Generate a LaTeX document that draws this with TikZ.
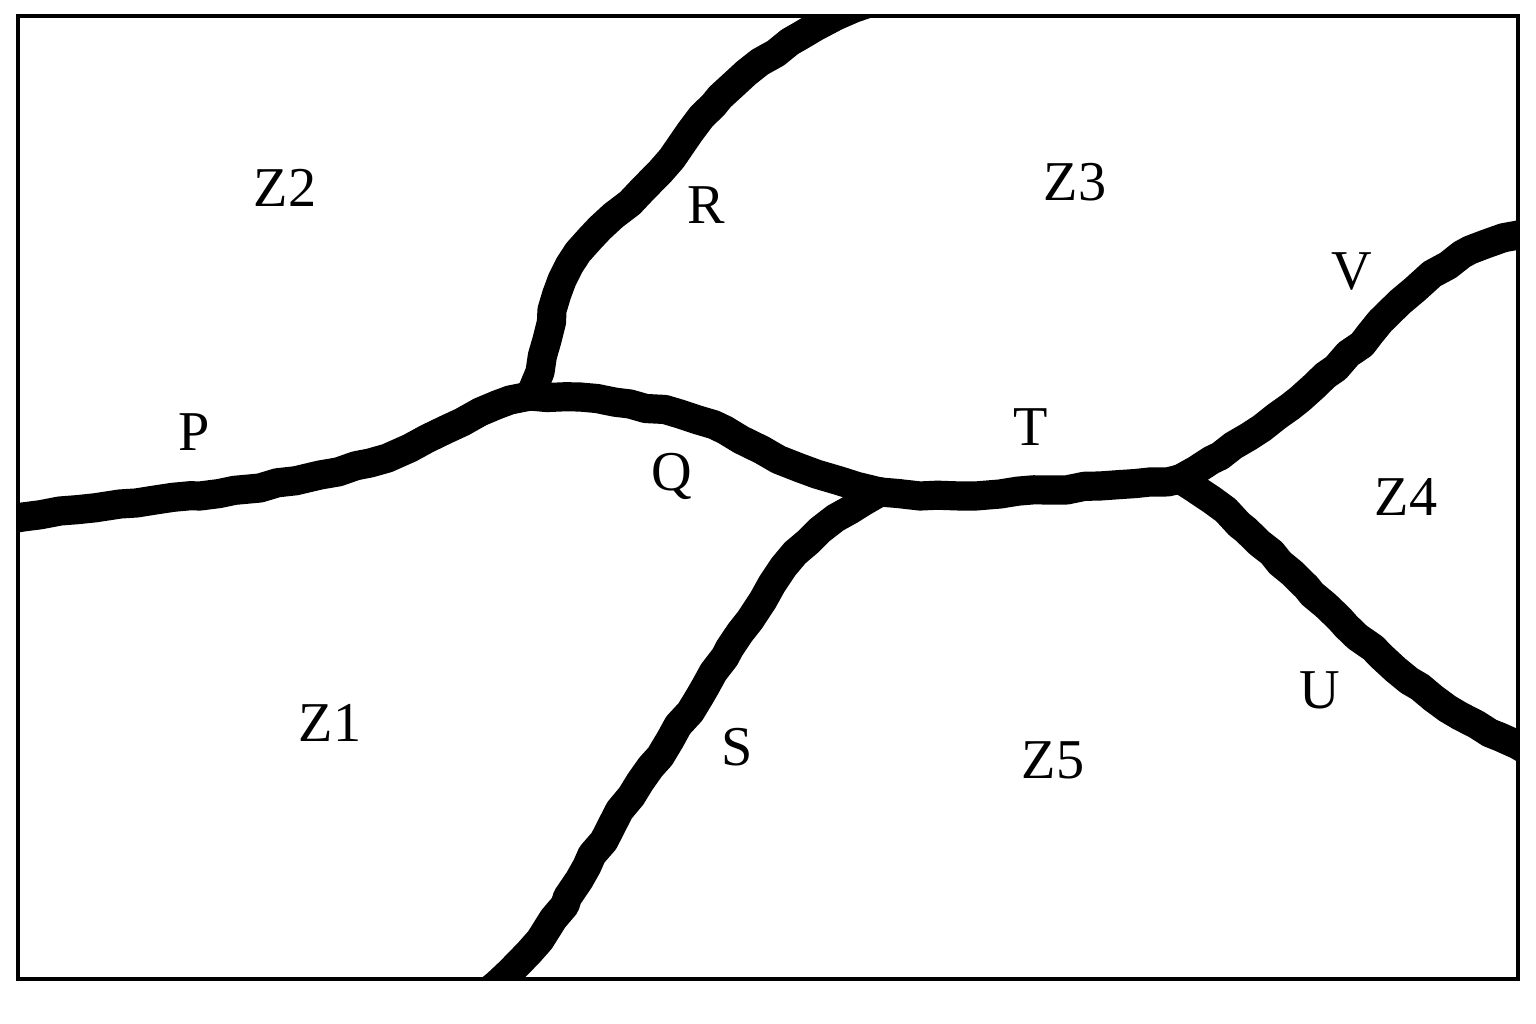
\documentclass[tikz,border=0pt]{standalone}
\usepackage{fontspec}
\setmainfont{Liberation Serif}
\usetikzlibrary{decorations.pathmorphing}

\begin{document}
\begin{tikzpicture}[x=0.1mm,y=-0.1mm,
    road/.style={line width=8.3pt, line cap=round, line join=round,
      decorate, decoration={random steps, segment length=5pt, amplitude=0.5pt}},
    zone/.style={font=\fontsize{16}{18}\selectfont}]
  \pgfmathsetseed{11}
  \useasboundingbox (0,0) rectangle (1536,1024);
  % junctions and ends
  \coordinate (j1) at (530,396);
  \coordinate (j2) at (880,492);
  \coordinate (j3) at (1180,479);
  \coordinate (pend) at (5,520);
  \coordinate (rend) at (880,0);
  \coordinate (send) at (480,998);
  \coordinate (vend) at (1535,228);
  \coordinate (uend) at (1535,755);
  \begin{scope}
    \clip (18,16) rectangle (1518,979);
    \draw[road] (pend) -- (60,511) -- (120,504) -- (200,496) -- (260,488) -- (320,475) -- (370,463) -- (410,448) -- (445,430) -- (480,412) -- (510,400) -- (j1);
    \draw[road] (j1) -- (540,372) -- (547,340) -- (552,310) -- (562,280) -- (578,252) -- (600,228) -- (630,203) -- (660,172) -- (690,132) -- (720,97) -- (760,62) -- (800,36) -- (836,16) -- (rend);
    \draw[road] (j1) -- (580,397) -- (630,404) -- (680,414) -- (725,430) -- (762,450) -- (800,468) -- (840,481) -- (j2);
    \draw[road] (j2) -- (850,510) -- (820,530) -- (795,553) -- (772,584) -- (750,620) -- (725,657) -- (700,696) -- (670,740) -- (640,782) -- (612,825) -- (587,866) -- (565,905) -- (540,940) -- (510,972) -- (send);
    \draw[road] (j2) -- (920,496) -- (960,496) -- (1000,494) -- (1050,490) -- (1100,486) -- (1150,482) -- (j3);
    \draw[road] (j3) -- (1220,456) -- (1262,428) -- (1300,399) -- (1336,368) -- (1370,334) -- (1400,302) -- (1432,274) -- (1470,250) -- (vend);
    \draw[road] (j3) -- (1212,500) -- (1246,530) -- (1280,563) -- (1312,594) -- (1346,626) -- (1382,657) -- (1420,687) -- (1460,716) -- (1500,737) -- (uend);
  \end{scope}
  \draw[line width=0.9pt] (18,16) rectangle (1518,979);
  % labels
  \node[zone] (z1) at (330,723) {Z1};
  \node[zone] (z2) at (285,188) {Z2};
  \node[zone] (z3) at (1075,182) {Z3};
  \node[zone] (z4) at (1406,497) {Z4};
  \node[zone] (z5) at (1053,760) {Z5};
  \node[zone] (p) at (194,432) {P};
  \node[zone] (q) at (672,476) {Q};
  \node[zone] (r) at (706,205) {R};
  \node[zone] (s) at (737,747) {S};
  \node[zone] (t) at (1031,427) {T};
  \node[zone] (u) at (1320,690) {U};
  \node[zone] (v) at (1352,272) {V};
\end{tikzpicture}
\end{document}
